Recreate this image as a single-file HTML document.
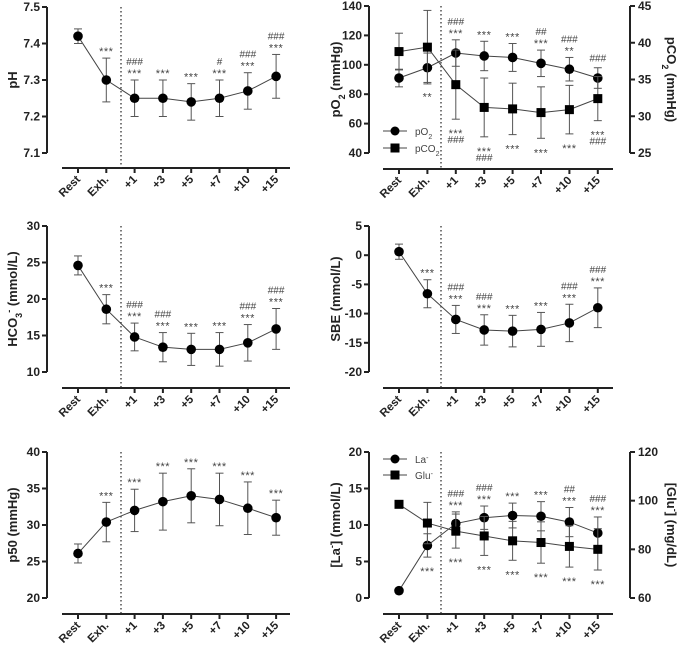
<!DOCTYPE html>
<html><head><meta charset="utf-8"><style>
body{margin:0;background:#fff;}
svg{display:block;font-family:"Liberation Sans",sans-serif;}
</style></head><body>
<svg id="c" width="685" height="651"></svg>
<script>
const categories=["Rest","Exh.","+1","+3","+5","+7","+10","+15"];
const phMean=[7.42,7.30,7.25,7.25,7.24,7.25,7.27,7.31];
const phErr=[0.02,0.06,0.05,0.05,0.05,0.05,0.05,0.06];
const po2Mean=[91,98,108,106,105,101,97,91];
const po2Err=[6,10,9,10,9.5,9,8,7];
const pco2Mean=[38.8,39.4,34.3,31.2,31.0,30.5,30.9,32.4];
const pco2Err=[2.5,5,4.7,4,3.5,3.5,3.3,3];
const hco3Mean=[24.6,18.6,14.8,13.4,13.1,13.1,14.0,15.9];
const hco3Err=[1.3,2,1.9,2,2.2,2.3,2.5,2.8];
const sbeMean=[0.6,-6.6,-11,-12.8,-13,-12.7,-11.6,-9];
const sbeErr=[1.3,2.4,2.4,2.6,2.7,2.9,3.2,3.4];
const p50Mean=[26.1,30.4,32,33.2,34,33.5,32.3,31];
const p50Err=[1.3,2.7,2.9,3.9,3.7,3.6,3.6,2.4];
const laMean=[1,7.2,10.2,11,11.3,11.2,10.4,8.9];
const laErr=[0.2,1.6,1.6,1.6,1.7,2,2,2.2];
const gluMean=[98.5,90.8,87.5,85.5,83.5,82.8,81.2,80];
const gluErr=[0,8.5,7,8,8,8.5,8.5,8.5];
const phTicks=[7.1,7.2,7.3,7.4,7.5];
const po2Ticks=[40,60,80,100,120,140];
const pco2Ticks=[25,30,35,40,45];
const hco3Ticks=[10,15,20,25,30];
const sbeTicks=[-20,-15,-10,-5,0,5];
const p50Ticks=[20,25,30,35,40];
const laTicks=[0,5,10,15,20];
const gluTicks=[60,80,100,120];
const phAnn=["","***","###\n***","***","***","#\n***","###\n***","###\n***"];
const po2Ann=["","","###\n***","***","***","##\n***","###\n**","###"];
const po2AnnBelow=["","**","","","","","",""];
const pco2AnnBelow=["","","***\n###","***\n###","***","***","***","***\n###"];
const hco3Ann=["","***","###\n***","###\n***","***","***","###\n***","###\n***"];
const sbeAnn=["","***","###\n***","###\n***","***","***","###\n***","###\n***"];
const p50Ann=["","***","***","***","***","***","***","***"];
const laAnn=["","","###\n***","###\n***","***","***","##\n***","###\n***"];
const laAnnBelow=["","***","","","","","",""];
const gluAnnBelow=["","","***","***","***","***","***","***"];

const S=document.getElementById('c');
const NS='http://www.w3.org/2000/svg';
function el(tag,attrs,parent,name){const e=document.createElementNS(NS,tag);for(const k in attrs)e.setAttribute(k,attrs[k]);


(parent||S).appendChild(e);return e;}

function mark(g,x,yy,ln){const star=ln[0]=='*';
 const t=el('text',{x:x,y:star?yy+6:yy+3,'text-anchor':'middle','font-size':star?11:10,'letter-spacing':star?'0.5':'0',fill:'#444'},g,'significance-mark');t.textContent=ln;}

function panel(o){
 const g=el('g',{},S,o.name);
 const xs=i=>o.x0+o.dx*i;
 const y=v=>o.yTop+(o.yMax-v)/(o.yMax-o.yMin)*(o.yBot-o.yTop);
 el('line',{x1:o.ax,y1:o.yTop,x2:o.ax,y2:o.yBot,stroke:'#222','stroke-width':2},g,'y-axis');
 o.ticks.forEach(t=>{const yy=y(t);
  el('line',{x1:o.ax-5,y1:yy,x2:o.ax,y2:yy,stroke:'#222','stroke-width':2},g,'y-tick');
  const tx=el('text',{x:o.ax-7,y:yy+4,'text-anchor':'end','font-size':12,'font-weight':'bold',fill:'#222'},g,'y-tick-label');tx.textContent=t;});
 const tl=el('text',{transform:`translate(${o.labelX},${(o.yTop+o.yBot)/2}) rotate(-90)`,'text-anchor':'middle','font-size':13,'font-weight':'bold',fill:'#222'},g,'y-axis-title');tl.innerHTML=o.title;
 el('line',{x1:o.xa0,y1:o.xAxisY,x2:o.xa1,y2:o.xAxisY,stroke:'#222','stroke-width':2},g,'x-axis');
 categories.forEach((c,i)=>{const xx=xs(i);
  el('line',{x1:xx,y1:o.xAxisY,x2:xx,y2:o.xAxisY+5,stroke:'#222','stroke-width':2},g,'x-tick');
  const t=el('text',{transform:`translate(${xx+3},${o.xAxisY+12}) rotate(-45)`,'text-anchor':'end','font-size':11.5,'font-weight':'bold',fill:'#222'},g,'x-tick-label');t.textContent=c;});
 el('line',{x1:o.dot,y1:o.yTop,x2:o.dot,y2:o.xAxisY,stroke:'#333','stroke-width':1.3,'stroke-dasharray':'1.5,2.5'},g,'exhaustion-divider');
 let y2=null;
 if(o.r){const r=o.r;y2=v=>o.yTop+(r.max-v)/(r.max-r.min)*(o.yBot-o.yTop);
  el('line',{x1:r.ax,y1:o.yTop,x2:r.ax,y2:o.yBot,stroke:'#222','stroke-width':2},g,'right-y-axis');
  r.ticks.forEach(t=>{const yy=y2(t);
   el('line',{x1:r.ax,y1:yy,x2:r.ax+5,y2:yy,stroke:'#222','stroke-width':2},g,'right-y-tick');
   const tx=el('text',{x:r.ax+8,y:yy+4,'font-size':12,'font-weight':'bold',fill:'#222'},g,'right-y-tick-label');tx.textContent=t;});
  const rt=el('text',{transform:`translate(${r.labelX},${(o.yTop+o.yBot)/2}) rotate(90)`,'text-anchor':'middle','font-size':13,'font-weight':'bold',fill:'#222'},g,'right-y-axis-title');rt.innerHTML=r.title;}
 o.series.forEach(s=>{const yf=s.right?y2:y;
  s.mean.forEach((m,i)=>{const e=s.err[i];if(!e)return;const xx=xs(i);
   el('line',{x1:xx,y1:yf(m-e),x2:xx,y2:yf(m+e),stroke:'#555','stroke-width':1},g,'error-bar');
   [m-e,m+e].forEach(v=>el('line',{x1:xx-4,y1:yf(v),x2:xx+4,y2:yf(v),stroke:'#555','stroke-width':1},g,'error-cap'));});
  el('polyline',{points:s.mean.map((m,i)=>xs(i)+','+yf(m)).join(' '),fill:'none',stroke:'#444','stroke-width':1},g,s.name+'-line');
  s.mean.forEach((m,i)=>{const xx=xs(i),yy=yf(m);
   if(s.square)el('rect',{x:xx-4.5,y:yy-4.5,width:9,height:9,fill:'#000'},g,s.name+'-point');
   else el('circle',{cx:xx,cy:yy,r:4.8,fill:'#000'},g,s.name+'-point');});
  const ann=(arr,below)=>{if(!arr)return;arr.forEach((a,i)=>{if(!a)return;const lines=a.split('\n');const m=s.mean[i],e=s.err[i];
   if(!below){let base=yf(m+e)-9;lines.slice().reverse().forEach((ln,k)=>mark(g,xs(i),base-k*9,ln));}
   else{let base=yf(m-e)+12;lines.forEach((ln,k)=>mark(g,xs(i),base+k*9,ln));}});};
  ann(s.ann,false);ann(s.annBelow,true);});
 if(o.legend){o.legend.forEach((l,k)=>{const ly=o.legY+k*l.dy;
  el('line',{x1:o.legX,y1:ly,x2:o.legX+24,y2:ly,stroke:'#444','stroke-width':1},g,'legend-line');
  if(l.square)el('rect',{x:o.legX+7.5,y:ly-4.5,width:9,height:9,fill:'#000'},g,'legend-marker');else el('circle',{cx:o.legX+12,cy:ly,r:4.5,fill:'#000'},g,'legend-marker');
  const t=el('text',{x:o.legX+32,y:ly+4,'font-size':10,fill:'#444'},g,'legend-entry');t.innerHTML=l.text;});}
}
const L={x0:78,dx:28.3,ax:47,xa0:62,xa1:290,dot:121,labelX:17};
const R={x0:399,dx:28.4,ax:369,xa0:383,xa1:613,dot:441,labelX:340};
panel(Object.assign({},L,{name:'ph-panel',yTop:7,yBot:153,xAxisY:168,yMin:7.1,yMax:7.5,ticks:phTicks,title:'pH',
 series:[{name:'ph',mean:phMean,err:phErr,ann:phAnn}]}));
panel(Object.assign({},R,{name:'po2-pco2-panel',yTop:6,yBot:153,xAxisY:169,yMin:40,yMax:140,ticks:po2Ticks,title:'pO<tspan baseline-shift="sub" font-size="9">2</tspan> (mmHg)',
 r:{ax:630,min:25,max:45,ticks:pco2Ticks,labelX:667,title:'pCO<tspan baseline-shift="sub" font-size="9">2</tspan> (mmHg)'},
 series:[{name:'po2',mean:po2Mean,err:po2Err,ann:po2Ann,annBelow:po2AnnBelow},{name:'pco2',mean:pco2Mean,err:pco2Err,right:true,square:true,annBelow:pco2AnnBelow}],
 legend:[{text:'pO<tspan baseline-shift="sub" font-size="7">2</tspan>',dy:17},{text:'pCO<tspan baseline-shift="sub" font-size="7">2</tspan>',dy:17,square:true}],legX:383,legY:131}));
panel(Object.assign({},L,{name:'hco3-panel',yTop:226,yBot:372,xAxisY:388,yMin:10,yMax:30,ticks:hco3Ticks,title:'HCO<tspan baseline-shift="sub" font-size="9">3</tspan><tspan baseline-shift="super" font-size="9">-</tspan> (mmol/L)',
 series:[{name:'hco3',mean:hco3Mean,err:hco3Err,ann:hco3Ann}]}));
panel(Object.assign({},R,{name:'sbe-panel',yTop:226,yBot:372,xAxisY:388,yMin:-20,yMax:5,ticks:sbeTicks,title:'SBE (mmol/L)',
 series:[{name:'sbe',mean:sbeMean,err:sbeErr,ann:sbeAnn}]}));
panel(Object.assign({},L,{name:'p50-panel',yTop:452,yBot:598,xAxisY:614,yMin:20,yMax:40,ticks:p50Ticks,title:'p50 (mmHg)',
 series:[{name:'p50',mean:p50Mean,err:p50Err,ann:p50Ann}]}));
panel(Object.assign({},R,{name:'lactate-glucose-panel',yTop:452,yBot:598,xAxisY:614,yMin:0,yMax:20,ticks:laTicks,title:'[La<tspan baseline-shift="super" font-size="9">-</tspan>] (mmol/L)',
 r:{ax:630,min:60,max:120,ticks:gluTicks,labelX:667,title:'[Glu<tspan baseline-shift="super" font-size="9">-</tspan>] (mg/dL)'},
 series:[{name:'lactate',mean:laMean,err:laErr,ann:laAnn,annBelow:laAnnBelow},{name:'glucose',mean:gluMean,err:gluErr,right:true,square:true,annBelow:gluAnnBelow}],
 legend:[{text:'La<tspan baseline-shift="super" font-size="7">-</tspan>',dy:16},{text:'Glu<tspan baseline-shift="super" font-size="7">-</tspan>',dy:16,square:true}],legX:383,legY:459}));
</script>
</body></html>
